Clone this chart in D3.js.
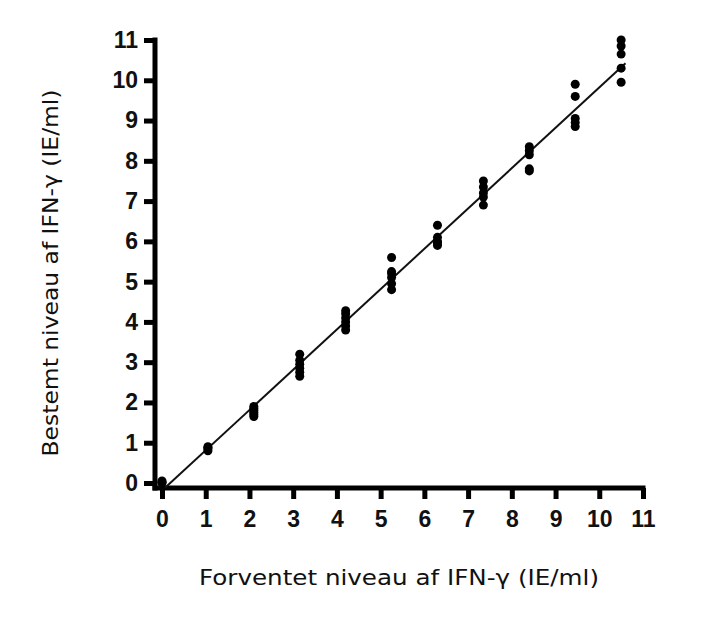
<!DOCTYPE html>
<html>
<head>
<meta charset="utf-8">
<script src="https://cdn.jsdelivr.net/npm/d3@7"></script>
<style>
  body { margin: 0; background: #fff; }
  .tick text { font-family: "Liberation Sans", Arial, sans-serif; font-weight: bold; font-size: 23px; fill: #111; }
  .title { font-family: "DejaVu Sans", "Noto Sans", sans-serif; font-size: 21px; fill: #111; }
</style>
</head>
<body>
<script>
// expected level (x) of each replicate group
const expected = [0, 1.05, 2.1, 3.15, 4.2, 5.25, 6.3, 7.35, 8.4, 9.45, 10.5];
const measured = [
  [0.0, 0.05, 0.02],
  [0.8, 0.85, 0.88, 0.9],
  [1.65, 1.7, 1.75, 1.8, 1.85, 1.9],
  [2.65, 2.75, 2.85, 2.95, 3.05, 3.2],
  [3.8, 3.9, 4.0, 4.1, 4.2, 4.28],
  [4.8, 4.95, 5.1, 5.2, 5.25, 5.6],
  [5.9, 5.95, 6.0, 6.1, 6.4],
  [6.9, 7.1, 7.2, 7.35, 7.5],
  [7.75, 7.8, 8.15, 8.25, 8.35],
  [8.85, 8.95, 9.05, 9.6, 9.9],
  [9.95, 10.3, 10.65, 10.85, 11.0]
];
// fitted line endpoints
const fitX = [0.07, 10.6];
const fitY = [-0.12, 10.42];
const ticks = [0, 1, 2, 3, 4, 5, 6, 7, 8, 9, 10, 11];

const width = 727, height = 625;
const svg = d3.select("body").append("svg")
  .attr("width", width).attr("height", height);

const x = d3.scaleLinear().domain([0, 11]).range([162, 643]);
const y = d3.scaleLinear().domain([0, 11]).range([483, 40]);

const axisX = 155, axisY = 488;

// x axis
const gx = svg.append("g").attr("transform", `translate(0,${axisY})`)
  .call(d3.axisBottom(x).tickValues(ticks).tickSize(11).tickSizeOuter(0).tickPadding(12));
gx.select(".domain").remove();
gx.selectAll(".tick line").attr("stroke", "#000").attr("stroke-width", 5);

// y axis
const gy = svg.append("g").attr("transform", `translate(${axisX},0)`)
  .call(d3.axisLeft(y).tickValues(ticks).tickSize(11).tickSizeOuter(0).tickPadding(6));
gy.select(".domain").remove();
gy.selectAll(".tick line").attr("stroke", "#000").attr("stroke-width", 5);

// axis lines
svg.append("line").attr("x1", axisX - 2.5).attr("x2", x(11) + 2.5)
  .attr("y1", axisY).attr("y2", axisY).attr("stroke", "#000").attr("stroke-width", 5);
svg.append("line").attr("x1", axisX).attr("x2", axisX)
  .attr("y1", y(11) - 2.5).attr("y2", axisY + 2.5).attr("stroke", "#000").attr("stroke-width", 5);

// fit line
svg.append("line")
  .attr("x1", x(fitX[0])).attr("y1", y(fitY[0]))
  .attr("x2", x(fitX[1])).attr("y2", y(fitY[1]))
  .attr("stroke", "#111").attr("stroke-width", 2);

// points
const pts = expected.flatMap((e, i) => measured[i].map(v => ({ e, v })));
svg.selectAll("circle.pt").data(pts).join("circle")
  .attr("class", "pt")
  .attr("cx", d => x(d.e)).attr("cy", d => y(d.v))
  .attr("r", 4.5).attr("fill", "#000");

// titles
svg.append("text").attr("class", "title")
  .attr("x", 399).attr("y", 585).attr("text-anchor", "middle")
  .attr("textLength", 400).attr("lengthAdjust", "spacingAndGlyphs")
  .text("Forventet niveau af IFN-γ (IE/ml)");
svg.append("text").attr("class", "title")
  .attr("transform", "translate(58,273) rotate(-90)").attr("text-anchor", "middle")
  .attr("textLength", 367).attr("lengthAdjust", "spacingAndGlyphs")
  .text("Bestemt niveau af IFN-γ (IE/ml)");
</script>
</body>
</html>
